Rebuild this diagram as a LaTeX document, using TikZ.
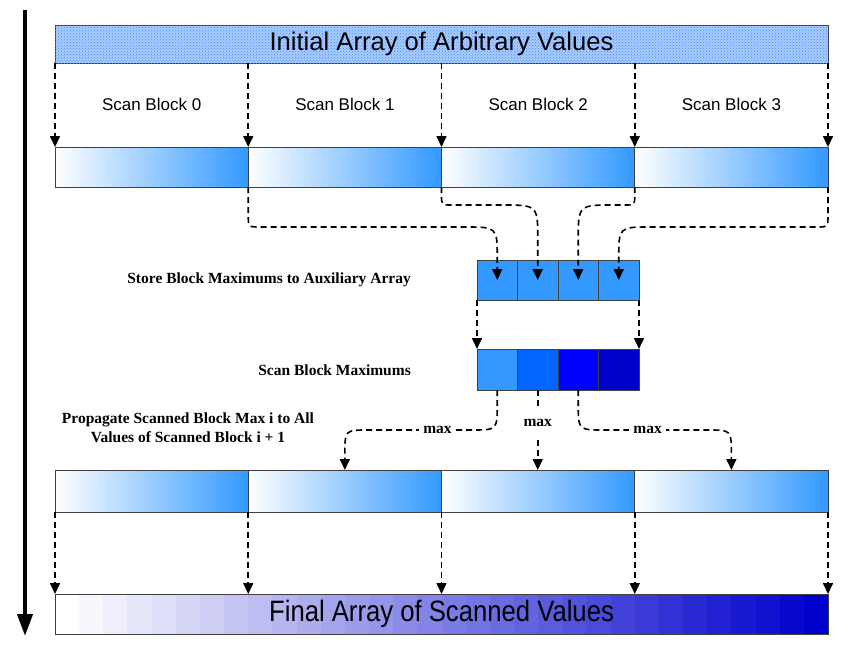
\documentclass[tikz,border=0pt]{standalone}
\usepackage{fontspec}
\setmainfont{Liberation Serif}
\newfontfamily\arialf{Liberation Sans}
\usetikzlibrary{arrows.meta,patterns,calc}
\definecolor{blk}{HTML}{3399FF}
\definecolor{bluea}{HTML}{0066FF}
\definecolor{blueb}{HTML}{0000FF}
\definecolor{bluec}{HTML}{0000CC}
\definecolor{frame}{HTML}{404040}
\definecolor{initbg}{HTML}{A9CBFF}
\definecolor{initdot}{HTML}{3F8CFF}
\begin{document}
\begin{tikzpicture}[x=1pt,y=-1pt,
  cell/.style={draw=frame, line width=1pt, inner sep=0pt, outer sep=0pt},
  grad/.style={cell, minimum width=193.25pt, left color=white, right color=blk},
  auxc/.style={cell, minimum width=40.5pt, minimum height=40pt},
  dsh/.style={draw=black, line width=1.6pt, dash pattern=on 6pt off 4pt, -{Triangle[length=11pt,width=10pt]}},
  lbl/.style={font=\fontsize{15.5}{19}\selectfont\bfseries, inner sep=1pt},
  maxlbl/.style={lbl, fill=white, inner sep=4pt},
  sblbl/.style={font=\arialf\fontsize{17}{20}\selectfont},
]
\useasboundingbox (0,0) rectangle (865,656);

% time arrow
\coordinate (ttop) at (25,10);
\coordinate (tbot) at (25,636);
\draw[line width=4pt, -{Triangle[length=22pt,width=15pt]}] (ttop) -- (tbot);

% initial array
\node[cell, minimum width=773pt, minimum height=38pt, fill=initbg,
      postaction={pattern=crosshatch dots, pattern color=initdot},
      font=\arialf\fontsize{25.6}{28}\selectfont] (init) at (441.5,44) {Initial Array of Arbitrary Values};

% row 1 and row 3 blocks
\foreach \i in {0,...,3} {
  \node[grad, minimum height=40pt] (r1b\i) at ({55+193.25*(\i+0.5)},167) {};
  \node[grad, minimum height=42pt] (r3b\i) at ({55+193.25*(\i+0.5)},491) {};
}
\foreach \i in {0,...,3} {
  \node[sblbl] (sb\i) at ({55+193.25*(\i+0.5)},104) {Scan Block \i};
}

% init -> row1
\draw[dsh] (init.south west) -- (r1b0.north west);
\foreach \i in {0,...,3} {
  \draw[dsh] (r1b\i.north east |- init.south) -- (r1b\i.north east);
}

% auxiliary array and scanned maxima
\node[auxc, fill=blk] (a0) at (497.25,280) {};
\node[auxc, fill=blk] (a1) at (537.75,280) {};
\node[auxc, fill=blk] (a2) at (578.25,280) {};
\node[auxc, fill=blk] (a3) at (618.75,280) {};
\node[auxc, minimum height=41pt, fill=blk] (s0) at (497.25,369.5) {};
\node[auxc, minimum height=41pt, fill=bluea] (s1) at (537.75,369.5) {};
\node[auxc, minimum height=41pt, fill=blueb] (s2) at (578.25,369.5) {};
\node[auxc, minimum height=41pt, fill=bluec] (s3) at (618.75,369.5) {};

% row1 -> aux
\draw[dsh] (r1b0.south east) -- ($(r1b0.south east)+(0,28)$) .. controls ($(r1b0.south east)+(0,40)$) .. ($(r1b0.south east)+(12,40)$)
  -- ($(a0.center)+(-32,-53)$) .. controls ($(a0.center)+(0,-53)$) .. ($(a0.center)+(0,-21)$) -- (a0.center);
\draw[dsh] (r1b1.south east) -- ($(r1b1.south east)+(0,8)$) .. controls ($(r1b1.south east)+(0,18)$) .. ($(r1b1.south east)+(10,18)$)
  -- ($(a1.center)+(-36,-75)$) .. controls ($(a1.center)+(0,-75)$) .. ($(a1.center)+(0,-40)$) -- (a1.center);
\draw[dsh] (r1b2.south east) -- ($(r1b2.south east)+(0,8)$) .. controls ($(r1b2.south east)+(0,18)$) .. ($(r1b2.south east)+(-10,18)$)
  -- ($(a2.center)+(36,-75)$) .. controls ($(a2.center)+(0,-75)$) .. ($(a2.center)+(0,-40)$) -- (a2.center);
\draw[dsh] (r1b3.south east) -- ($(r1b3.south east)+(0,28)$) .. controls ($(r1b3.south east)+(0,40)$) .. ($(r1b3.south east)+(-12,40)$)
  -- ($(a3.center)+(32,-53)$) .. controls ($(a3.center)+(0,-53)$) .. ($(a3.center)+(0,-21)$) -- (a3.center);

% aux -> scanned
\draw[dsh] (a0.south west) -- (s0.north west);
\draw[dsh] (a3.south east) -- (s3.north east);

% scanned -> row3
\draw[dsh] (s0.south) -- ($(s0.south)+(0,14)$) .. controls ($(s0.south)+(0,40)$) .. ($(s0.south)+(-26,40)$)
  -- node[maxlbl, pos=0.33] (m0) {max} ($(r3b1.north)+(24,-40)$) .. controls ($(r3b1.north)+(0,-40)$) .. ($(r3b1.north)+(0,-16)$) -- (r3b1.north);
\draw[dsh] (s1.south) -- node[maxlbl, pos=0.41, inner ysep=9pt] (m1) {max} (s1.south |- r3b2.north);
\draw[dsh] (s2.south) -- ($(s2.south)+(0,14)$) .. controls ($(s2.south)+(0,40)$) .. ($(s2.south)+(26,40)$)
  -- node[maxlbl, pos=0.42] (m2) {max} ($(r3b3.north)+(-24,-40)$) .. controls ($(r3b3.north)+(0,-40)$) .. ($(r3b3.north)+(0,-16)$) -- (r3b3.north);

% labels
\node[lbl, anchor=east] (lstore) at (412,280) {Store Block Maximums to Auxiliary Array};
\node[lbl, anchor=east] (lscan) at (412,370) {Scan Block Maximums};
\node[lbl, align=center, font=\fontsize{15.5}{19}\selectfont\bfseries] (lprop) at (188,427.5) {Propagate Scanned Block Max i to All\\Values of Scanned Block i + 1};

% final array bands
\foreach \i in {0,...,31} {
  \pgfmathsetmacro{\p}{\i*100/31}
  \fill[bluec!\p!white] ({55+\i*24.15625},594) rectangle ({55+(\i+1)*24.15625+0.3},634);
}
\node[cell, minimum width=773pt, minimum height=40pt,
      font=\arialf\fontsize{29.5}{32}\selectfont] (fin) at (441.5,614) {\scalebox{0.87}[1]{Final Array of Scanned Values}};

% row3 -> final
\draw[dsh] (r3b0.south west) -- (r3b0.south west |- fin.north);
\foreach \i in {0,...,3} {
  \draw[dsh] (r3b\i.south east) -- (r3b\i.south east |- fin.north);
}
\end{tikzpicture}
\end{document}
